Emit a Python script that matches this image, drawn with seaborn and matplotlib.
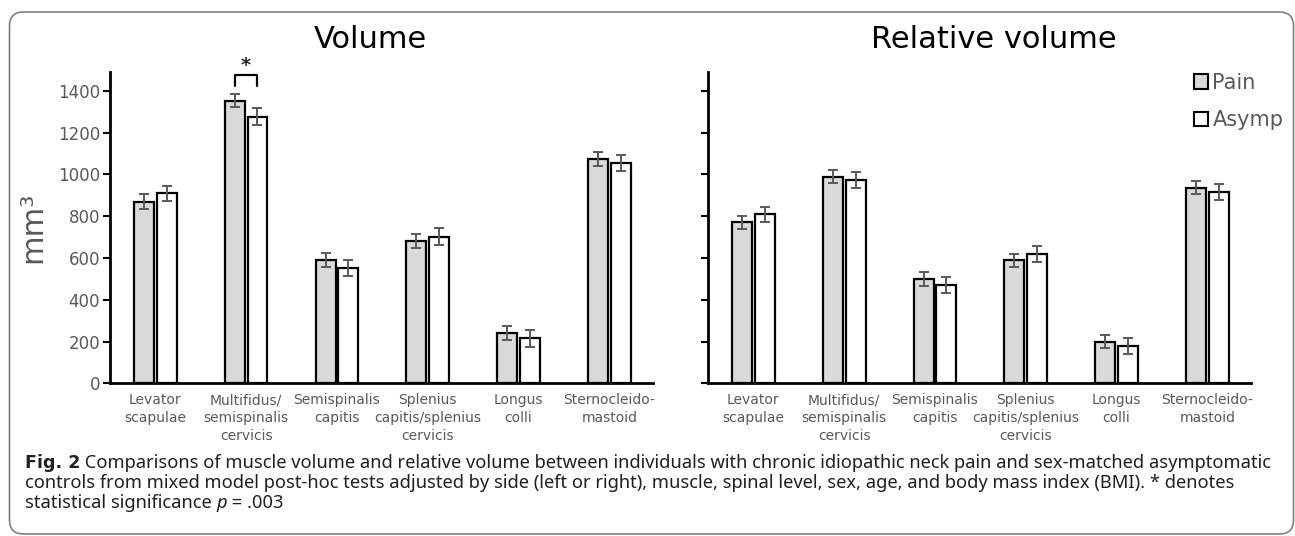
"""
Muscle volume / relative volume bar chart (Pain vs Asymp) with caption.
"""
import matplotlib
matplotlib.use("Agg")
import matplotlib.pyplot as plt
from matplotlib.patches import FancyBboxPatch, Patch
from matplotlib.transforms import IdentityTransform
import pandas as pd
import seaborn as sns

# ── Data ──────────────────────────────────────────────────────────────────────
muscles = [
    "Levator\nscapulae",
    "Multifidus/\nsemispinalis\ncervicis",
    "Semispinalis\ncapitis",
    "Splenius\ncapitis/splenius\ncervicis",
    "Longus\ncolli",
    "Sternocleido-\nmastoid",
]
groups = ["Pain", "Asymp"]

volume_pain      = [870, 1353, 592, 680, 242, 1072]
volume_asymp     = [909, 1276, 551, 701, 215, 1056]
volume_pain_err  = [34, 32, 33, 34, 34, 34]
volume_asymp_err = [36, 40, 39, 40, 40, 39]

relvol_pain      = [771, 989, 499, 588, 199, 935]
relvol_asymp     = [808, 972, 471, 619, 178, 917]
relvol_pain_err  = [32, 31, 32, 31, 31, 31]
relvol_asymp_err = [37, 38, 38, 38, 38, 38]

y_ticks = [0, 200, 400, 600, 800, 1000, 1200, 1400]

GREY_TXT = "#595959"
FILLS    = {"Pain": "#d9d9d9", "Asymp": "#ffffff"}

sns.set_style("ticks")
plt.rcParams["font.family"] = ["DejaVu Sans"]

fig = plt.figure(figsize=(12.95, 5.36), dpi=100)
ax1 = fig.add_axes([0.0849, 0.2849, 0.4193, 0.5808])
ax2 = fig.add_axes([0.5467, 0.2849, 0.4193, 0.5808])


def draw_panel(ax, pain, asymp, pain_err, asymp_err):
    df = pd.DataFrame({
        "muscle": muscles * 2,
        "group":  ["Pain"] * len(muscles) + ["Asymp"] * len(muscles),
        "value":  pain + asymp,
    })
    sns.barplot(data=df, x="muscle", y="value", hue="group", hue_order=groups,
                palette=FILLS, saturation=1, width=0.5, gap=0.12,
                edgecolor="black", linewidth=1.6, errorbar=None,
                legend=False, ax=ax)
    for bar, v, e in zip(ax.patches, pain + asymp, pain_err + asymp_err):
        ax.errorbar(bar.get_x() + bar.get_width() / 2, v, yerr=e,
                    color=GREY_TXT, lw=1.4, capsize=3.5, capthick=1.4, zorder=5)

    ax.set_ylim(0, 1490)
    ax.set_xlim(-0.5, 5.48)
    ax.set_yticks(y_ticks)
    ax.set_xlabel("")
    ax.set_ylabel("")
    sns.despine(ax=ax)
    for s in ("left", "bottom"):
        ax.spines[s].set_linewidth(2)
        ax.spines[s].set_color("black")
    ax.tick_params(axis="y", length=5, width=1.5, color="black",
                   labelsize=12, labelcolor=GREY_TXT, pad=2)
    ax.tick_params(axis="x", length=0, labelsize=10, labelcolor=GREY_TXT, pad=7)
    for lab in ax.get_xticklabels():
        lab.set_linespacing(1.35)


draw_panel(ax1, volume_pain, volume_asymp, volume_pain_err, volume_asymp_err)
draw_panel(ax2, relvol_pain, relvol_asymp, relvol_pain_err, relvol_asymp_err)
ax2.set_yticklabels([])

ax1.set_ylabel("mm³", fontsize=22, color=GREY_TXT, labelpad=8)

# significance bracket over Multifidus
n = len(muscles)
x_a = ax1.patches[1].get_x() + ax1.patches[1].get_width() / 2
x_b = ax1.patches[1 + n].get_x() + ax1.patches[1 + n].get_width() / 2
ax1.plot([x_a, x_a, x_b, x_b], [1422, 1475, 1475, 1422], color="black",
         lw=1.6, clip_on=False)
ax1.text((x_a + x_b) / 2, 1474, "*", ha="center", va="bottom",
         fontsize=14, fontweight="bold", clip_on=False)

# legend
handles = [Patch(facecolor=FILLS[g], edgecolor="black", lw=1.5, label=g)
           for g in groups]
ax2.legend(handles=handles, loc="upper right", bbox_to_anchor=(1.075, 1.025),
           frameon=False, fontsize=15, labelcolor=GREY_TXT,
           handlelength=0.7, handleheight=0.7, handletextpad=0.2,
           labelspacing=0.85, borderaxespad=0)

# panel titles
fig.text(0.2857, 1 - 39 / 536, "Volume", ha="center", va="center",
         fontsize=22, color="black")
fig.text(0.7676, 1 - 39 / 536, "Relative volume", ha="center", va="center",
         fontsize=22, color="black")

# caption
cap = dict(fontsize=13.2, family=["Noto Sans", "DejaVu Sans"], color="#231f20")
x_cap = 25 / 1295
t0 = fig.text(x_cap, 1 - 468 / 536, "Fig. 2", fontweight="bold", va="baseline",
              fontsize=12.6, family=["DejaVu Sans"], color="#231f20")
ax1.annotate(" Comparisons of muscle volume and relative volume between individuals "
             "with chronic idiopathic neck pain and sex-matched asymptomatic",
             xy=(1, 0), xycoords=t0, va="bottom", annotation_clip=False, **cap)
fig.text(x_cap, 1 - 487.5 / 536,
         "controls from mixed model post-hoc tests adjusted by side (left or right), "
         "muscle, spinal level, sex, age, and body mass index (BMI). * denotes",
         va="baseline", **cap)
t3 = fig.text(x_cap, 1 - 508 / 536, "statistical significance ", va="baseline", **cap)
t4 = ax1.annotate("p", xy=(1, 0), xycoords=t3, va="bottom", style="italic",
                  annotation_clip=False, **cap)
ax1.annotate(" = .003", xy=(1, 0), xycoords=t4, va="bottom",
             annotation_clip=False, **cap)

# rounded frame around the whole figure
frame = FancyBboxPatch((9.5, 2), 1284, 522, boxstyle="round,pad=0,rounding_size=14",
                       transform=IdentityTransform(), fc="none", ec="#808080", lw=1.2)
fig.add_artist(frame)

fig.savefig("out.png", dpi=100)
